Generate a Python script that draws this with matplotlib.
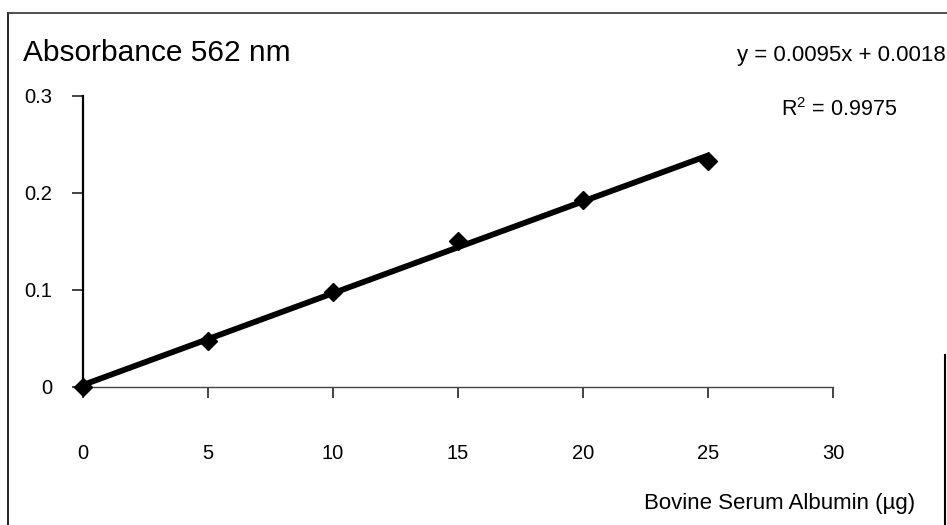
import numpy as np
import matplotlib.pyplot as plt
from matplotlib.lines import Line2D

plt.rcParams['font.family'] = ['Liberation Sans', 'DejaVu Sans']
plt.rcParams['mathtext.fontset'] = 'custom'
plt.rcParams['mathtext.rm'] = 'Liberation Sans'

# BSA standard curve readings
bsa_ug = [0, 5, 10, 15, 20, 25]
absorbance = [0.0, 0.047, 0.098, 0.151, 0.193, 0.233]
x_ticks = [0, 5, 10, 15, 20, 25, 30]
y_ticks = [0, 0.1, 0.2, 0.3]
y_tick_labels = ["0", "0.1", "0.2", "0.3"]

fig = plt.figure(figsize=(9.47, 5.25), dpi=100)
ax = fig.add_axes([0.0876, 0.2629, 0.792, 0.5543])

# linear trendline through the standards
slope, icpt = np.polyfit(bsa_ug, absorbance, 1)
xs = np.array([bsa_ug[0], bsa_ug[-1]])
ax.plot(xs, slope * xs + icpt, color='black', lw=4.2, solid_capstyle='butt', zorder=2)
ax.plot(bsa_ug, absorbance, linestyle='none', marker='D', markersize=9,
        color='black', clip_on=False, zorder=3)

ax.set_xlim(0, 30)
ax.set_ylim(0, 0.3)
ax.set_xticks(x_ticks)
ax.set_yticks(y_ticks)
ax.set_yticklabels(y_tick_labels)

for s in ['top', 'right']:
    ax.spines[s].set_visible(False)
ax.spines['left'].set_linewidth(1.6)
ax.spines['left'].set_color('black')
ax.spines['bottom'].set_linewidth(1.0)
ax.spines['bottom'].set_color('#444444')

ax.tick_params(axis='x', direction='out', length=8, width=1.2, pad=33,
               labelsize=14.5, color='#222222')
ax.tick_params(axis='y', direction='out', length=8, width=1.2, pad=14,
               labelsize=14.5, color='#222222')

fig.text(23 / 947, 1 - 53 / 525, "Absorbance 562 nm", fontsize=21.5,
         ha='left', va='center')
fig.text(946 / 947, 1 - 56 / 525, "y = 0.0095x + 0.0018", fontsize=16,
         ha='right', va='center')
fig.text(839 / 947, 1 - 110 / 525, r"R$^2$ = 0.9975", fontsize=15.5,
         ha='center', va='center')
fig.text(915 / 947, 1 - 503 / 525, "Bovine Serum Albumin (\u00b5g)", fontsize=16,
         ha='right', va='center')

# border around the figure (partially visible in the scan)
fig.add_artist(Line2D([8 / 947, 8 / 947], [0, 1 - 13 / 525], color='black', lw=1.2))
fig.add_artist(Line2D([8 / 947, 1], [1 - 13 / 525, 1 - 13 / 525], color='#333333', lw=1.2))
fig.add_artist(Line2D([945 / 947, 945 / 947], [0, 1 - 355 / 525], color='black', lw=1.5))

fig.savefig("out.png", dpi=100)
